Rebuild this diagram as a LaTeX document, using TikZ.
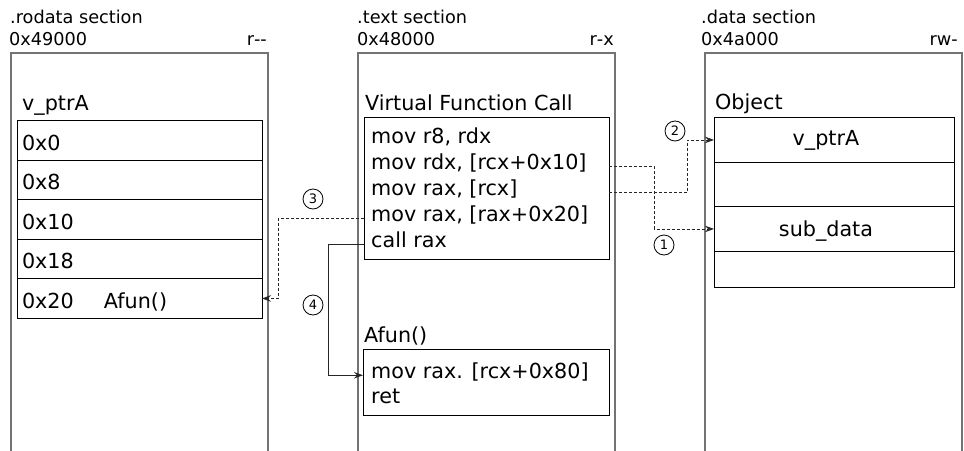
\documentclass[tikz,border=0pt]{standalone}
\usepackage{fontspec}
\setmainfont{DejaVu Sans}
\usetikzlibrary{arrows.meta,positioning,calc}
\newcommand{\dash}{\mbox{-}}
\tikzset{
    seclabel/.style = {font=\fontsize{17.7}{20}\selectfont,
                    inner sep=0pt,
                    anchor=base west},
    title/.style =  {font=\fontsize{20.7}{24}\selectfont,
                    inner sep=0pt,
                    anchor=base west},
    secline/.style = {draw=black!55,
                    line width=1.2pt},
    cell/.style =   {rectangle,
                    draw=black,
                    line width=1pt,
                    outer sep=0pt,
                    inner xsep=5pt,
                    inner ysep=0pt,
                    text width=235pt,
                    align=left,
                    text height=20pt,
                    text depth=0pt,
                    minimum height=39.5pt,
                    font=\fontsize{20.7}{24}\selectfont},
    objcell/.style = {rectangle,
                    draw=black,
                    line width=1pt,
                    outer sep=0pt,
                    inner sep=0pt,
                    minimum width=240pt,
                    minimum height=44.5pt},
    codebox/.style = {rectangle,
                    draw=black,
                    line width=1pt,
                    outer sep=0pt,
                    inner sep=0pt},
    code/.style =   {font=\fontsize{20.7}{24}\selectfont,
                    inner sep=0pt,
                    anchor=base west},
    num/.style =    {circle,
                    draw=black,
                    line width=0.8pt,
                    inner sep=0pt,
                    minimum size=20pt,
                    font=\fontsize{13}{14}\selectfont},
    link/.style =   {->,
                    draw=black!85,
                    line width=0.9pt},
    dlink/.style =  {link,
                    dash pattern=on 3pt off 2pt},
    >={Stealth[length=9pt,width=6.5pt,inset=3pt]}}

\begin{document}
\begin{tikzpicture}[x=1pt,y=-1pt]
    \useasboundingbox (0,0) rectangle (964,450);

    % sections
    \draw[secline] (11,452) |- (268,53) -- (268,452);
    \draw[secline] (358,452) |- (615,53) -- (615,452);
    \draw[secline] (705,452) |- (962,53) -- (962,452);

    \node[seclabel] (rosec)  at (10,23)  {.rodata section};
    \node[seclabel] (roaddr) at (9,45)   {0x49000};
    \node[seclabel,anchor=base east] (roperm) at (267,45) {r\dash\dash};
    \node[seclabel] (txsec)  at (357,23) {.text section};
    \node[seclabel] (txaddr) at (357,45) {0x48000};
    \node[seclabel,anchor=base east] (txperm) at (614,45) {r\dash x};
    \node[seclabel] (dtsec)  at (701,23) {.data section};
    \node[seclabel] (dtaddr) at (701,45) {0x4a000};
    \node[seclabel,anchor=base east] (dtperm) at (958,45) {rw\dash};

    % vtable
    \node[title] (vtlbl) at (22,110) {v\_ptrA};
    \node[cell,anchor=north west] (r1) at (17,120.7) {0x0};
    \node[cell,below=0pt of r1]   (r2) {0x8};
    \node[cell,below=0pt of r2]   (r3) {0x10};
    \node[cell,below=0pt of r3]   (r4) {0x18};
    \node[cell,below=0pt of r4]   (r5) {\makebox[82pt][l]{0x20}Afun()};

    % code
    \node[title] (vfclbl) at (365,110.7) {Virtual Function Call};
    \node[codebox,minimum width=245pt,minimum height=142pt,anchor=north west] (vfc) at (364,117) {};
    \foreach \t [count=\i] in {{mov r8, rdx},{mov rdx, [rcx+0x10]},{mov rax, [rcx]},{mov rax, [rax+0x20]},{call rax}}
        \node[code] (l\i) at (371,117+26.1*\i) {\t};

    \node[title] (aflbl) at (364,342.7) {Afun()};
    \node[codebox,minimum width=246pt,minimum height=66pt,anchor=north west] (afbox) at (363,349) {};
    \node[code] (a1) at (371,378) {mov rax. [rcx+0x80]};
    \node[code] (a2) at (371,403) {ret};

    % object
    \node[title] (oblbl) at (715,109) {Object};
    \node[objcell,anchor=north west] (ob1) at (714,117.7) {};
    \node[objcell,below=0pt of ob1]  (ob2) {};
    \node[objcell,below=0pt of ob2]  (ob3) {};
    \node[objcell,below=0pt of ob3,minimum height=36.5pt] (ob4) {};
    \node[title,anchor=base] (obvp) at ($(ob1.center)+(-8,6)$) {v\_ptrA};
    \node[title,anchor=base] (obsd) at ($(ob3.center)+(-8,7.5)$) {sub\_data};

    % links
    \path[dlink] (l2.mid west -| vfc.east) -- ++(45,0) |- (ob3.west);
    \path[dlink] (l3.mid west -| vfc.east) -- ++(78,0) |- (ob1.west);
    \path[dlink] (l4.mid west -| vfc.west) -- ++(-86,0) |- (r5.east);
    \path[link]  (l5.mid west -| vfc.west) -- ++(-36,0) |- (a1.mid west -| afbox.west);

    \node[num] (n1) at (664,245) {1};
    \node[num] (n2) at (675,131) {2};
    \node[num] (n3) at (313,199) {3};
    \node[num] (n4) at (313,305) {4};
\end{tikzpicture}
\end{document}
